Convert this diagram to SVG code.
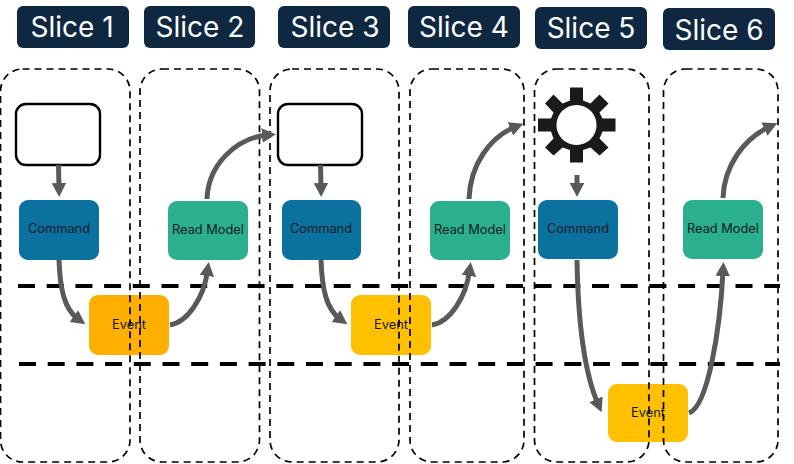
<svg xmlns="http://www.w3.org/2000/svg" width="794" height="464" viewBox="0 0 794 464">
<style>
text{font-family:Inter,"Noto Sans","Liberation Sans",sans-serif;text-anchor:middle}
.hd rect{fill:#0e2841}
.hd text{fill:#fff;font-size:28px}
.slice{fill:none;stroke:#000;stroke-width:1.700;stroke-dasharray:7 5}
.lane{fill:none;stroke:#000;stroke-width:4;stroke-dasharray:17 11.700}
.ui{fill:#fff;stroke:#000;stroke-width:2.400}
.cmd{fill:#0b729f}
.rm{fill:#2bb08f}
.ev{fill:#ffc000}
.lbl{font-size:12.800px;fill:#0a1a22}
.cn path{fill:none;stroke:#595959;stroke-width:5;marker-end:url(#ah)}
</style>
<defs>
<marker id="ah" viewBox="0 0 2.800 2.900" refX="1" refY="1.450" markerWidth="2.800" markerHeight="2.900" orient="auto"><path d="M0,0L2.800,1.450L0,2.900z" fill="#595959"/></marker>
</defs>
<rect width="794" height="464" fill="#fff"/>
<g id="headers" class="hd">
<g id="h1"><rect x="17" y="6" width="112" height="42" rx="6"/><text x="72" y="37">Slice 1</text></g>
<g id="h2"><rect x="144" y="6" width="111" height="42" rx="6"/><text x="200" y="37">Slice 2</text></g>
<g id="h3"><rect x="278" y="6" width="112" height="42" rx="6"/><text x="335" y="37">Slice 3</text></g>
<g id="h4"><rect x="408" y="6" width="112" height="42" rx="6"/><text x="464" y="37">Slice 4</text></g>
<g id="h5"><rect x="535" y="7" width="112" height="42" rx="6"/><text x="591" y="38">Slice 5</text></g>
<g id="h6"><rect x="663" y="8" width="112" height="42" rx="6"/><text x="719" y="40">Slice 6</text></g>
</g>
<g id="lanes">
<path class="lane" d="M18,286H780"/>
<path class="lane" d="M19,364H780"/>
</g>
<g id="n-ui1"><rect class="ui" x="16" y="104" width="84" height="61" rx="10"/></g>
<g id="n-ui3"><rect class="ui" x="278" y="104" width="84" height="61" rx="10"/></g>
<g id="n-gear"><path fill="#1a1a1a" fill-rule="evenodd" d="M570,87.500H583V100.500L590.500,103.500L599.500,94.500L608.500,103.500L599.500,112.500L602.500,118.500H615.500V131.500H602.500L599.500,138.500L608.500,147.500L599.500,155.500L590.500,147.500L583,150V162.500H570V150L562.500,147.500L553.500,155.500L545,147.500L553.500,138.500L551,131.500H538V118.500H551L553.500,112.500L545,103.500L553.500,94.500L562.500,103.500L570,100.500ZM576.500,105a20,20 0 1 0 .01,0Z"/></g>
<g id="n-c1"><rect class="cmd" x="19" y="200" width="80" height="60" rx="9"/><text class="lbl" x="59" y="233">Command</text></g>
<g id="n-r2"><rect class="rm" x="168" y="201" width="80" height="59" rx="9"/><text class="lbl" x="208" y="234">Read Model</text></g>
<g id="n-e1"><rect x="89" y="295" width="80" height="60" rx="9" fill="#ffaf00"/><text class="lbl" x="129" y="329">Event</text></g>
<g id="n-c3"><rect class="cmd" x="282" y="200" width="79" height="60" rx="9"/><text class="lbl" x="321" y="233">Command</text></g>
<g id="n-r4"><rect class="rm" x="430" y="201" width="80" height="59" rx="9"/><text class="lbl" x="470" y="234">Read Model</text></g>
<g id="n-e3"><rect class="ev" x="351" y="295" width="80" height="60" rx="9"/><text class="lbl" x="391" y="329">Event</text></g>
<g id="n-c5"><rect class="cmd" x="538" y="200" width="80" height="59" rx="9"/><text class="lbl" x="578" y="233">Command</text></g>
<g id="n-r6"><rect class="rm" x="683" y="200" width="80" height="59" rx="9"/><text class="lbl" x="723" y="233">Read Model</text></g>
<g id="n-e5"><rect class="ev" x="608" y="384" width="80" height="58" rx="9"/><text class="lbl" x="648" y="417">Event</text></g>
<g id="slices">
<rect id="s1" class="slice" x="0.500" y="69" width="129.500" height="393" rx="22"/>
<rect id="s2" class="slice" x="140" y="69" width="119.500" height="393" rx="22"/>
<rect id="s3" class="slice" x="270" y="69" width="129" height="393" rx="22"/>
<rect id="s4" class="slice" x="410" y="69" width="114" height="393" rx="22"/>
<rect id="s5" class="slice" x="534.500" y="69" width="114.500" height="393" rx="22"/>
<rect id="s6" class="slice" x="663.500" y="69" width="114.500" height="393" rx="22"/>
</g>
<g id="connectors" class="cn">
<path d="M58.500,165L59,188"/>
<path d="M59,260C60,288 64,309 78,319"/>
<path d="M170,325C188,322 204,297 207.500,271"/>
<path d="M207,199C208,165 236,138 267,135"/>
<path d="M320.500,165L321,188"/>
<path d="M321,260C322,288 326,309 340,319"/>
<path d="M432,325C450,322 466,297 469.500,271"/>
<path d="M469,199C470,165 490,137 515,127"/>
<path d="M577,175L577,188"/>
<path d="M577,260C578,320 584,372 598,404"/>
<path d="M689,413C708,406 720,330 723,271"/>
<path d="M723,198C724,165 745,138 769,127"/>
</g>
</svg>
